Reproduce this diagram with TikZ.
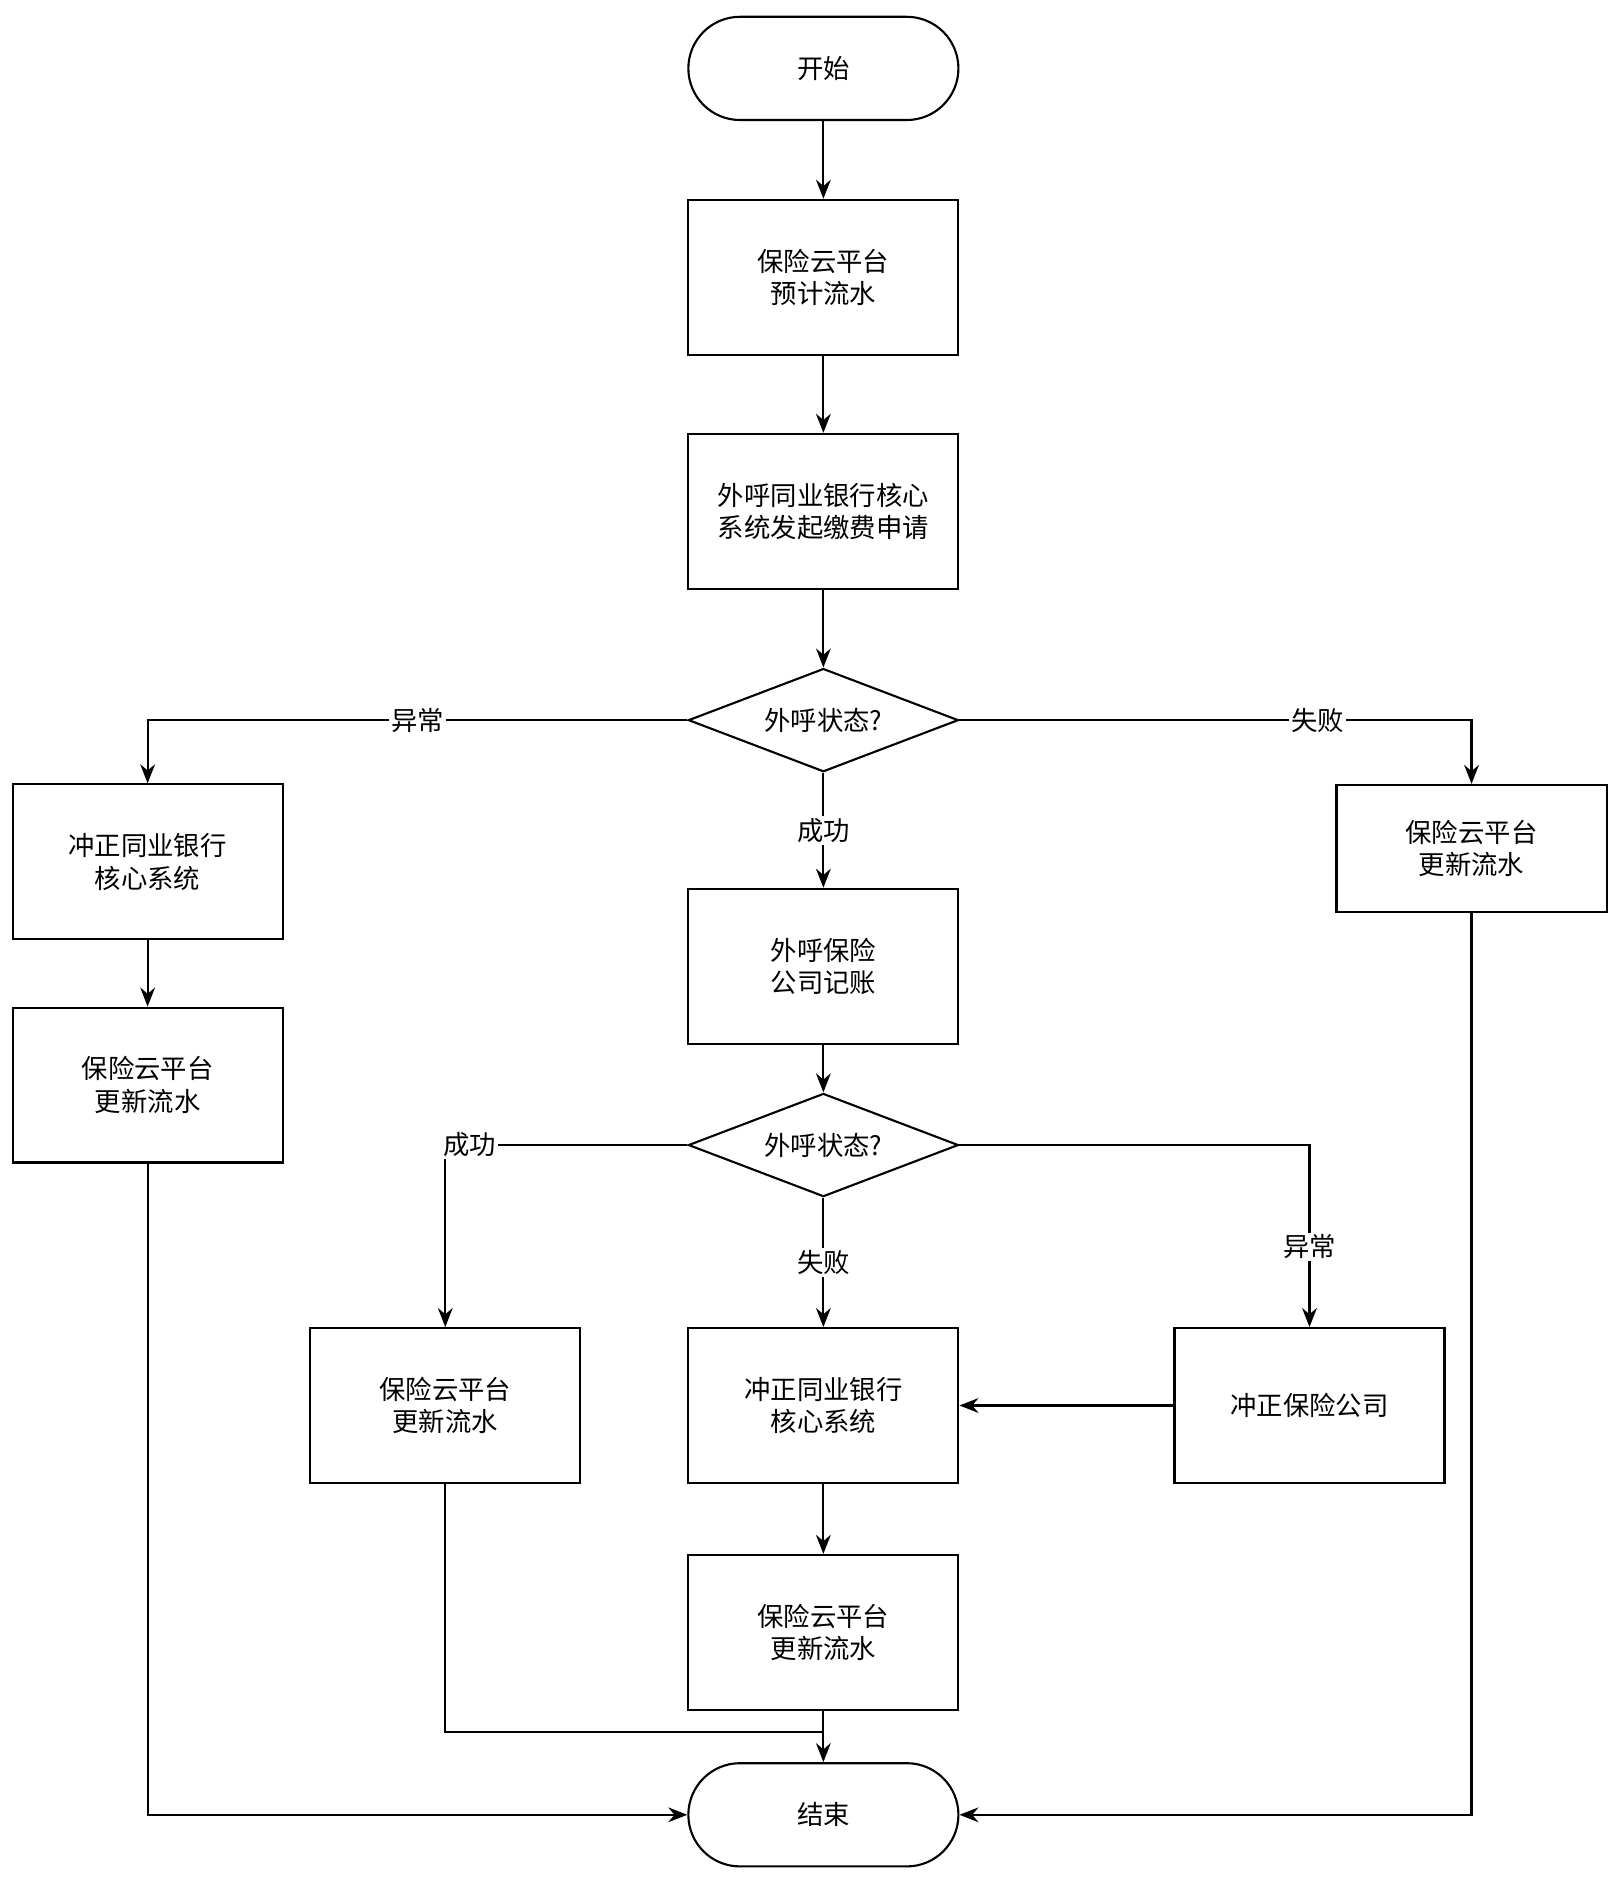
\documentclass[tikz,border=0pt]{standalone}
\usepackage{fontspec}
\setmainfont{Noto Sans CJK SC}
\usetikzlibrary{arrows.meta,shapes.geometric}

\begin{document}
\begin{tikzpicture}[font=\fontsize{12.5}{15.4}\selectfont]
    \useasboundingbox (0,0) rectangle (27,-31.36);
    \begin{scope}[every node/.style={draw,line width=1pt,align=center,minimum width=4.5cm,minimum height=2.58cm}]
        \node[rounded corners=0.86cm,minimum height=1.72cm] (start) at (13.72,-1.14) {开始};
        \node (plan) at (13.72,-4.62) {保险云平台\\预计流水};
        \node (apply) at (13.72,-8.52) {外呼同业银行核心\\系统发起缴费申请};
        \node[diamond,aspect=2.6,minimum height=1.72cm,inner sep=0pt] (check1) at (13.72,-12.0) {外呼状态?};
        \node (revbank1) at (2.46,-14.36) {冲正同业银行\\核心系统};
        \node (upd1) at (2.46,-18.08) {保险云平台\\更新流水};
        \node[minimum height=2.12cm] (upd2) at (24.52,-14.14) {保险云平台\\更新流水};
        \node (book) at (13.72,-16.10) {外呼保险\\公司记账};
        \node[diamond,aspect=2.6,minimum height=1.72cm,inner sep=0pt] (check2) at (13.72,-19.08) {外呼状态?};
        \node (upd3) at (7.42,-23.42) {保险云平台\\更新流水};
        \node (revbank2) at (13.72,-23.42) {冲正同业银行\\核心系统};
        \node (revins) at (21.82,-23.42) {冲正保险公司};
        \node (upd4) at (13.72,-27.20) {保险云平台\\更新流水};
        \node[rounded corners=0.86cm,minimum height=1.72cm] (end) at (13.72,-30.24) {结束};
    \end{scope}
    \coordinate (join) at (13.72,-28.86);

    \begin{scope}[>={Stealth[length=9pt,width=7pt]},
                  every node/.style={fill=white,inner sep=1pt},
                  every path/.style={draw=black,line width=1pt}]
        \path [->] (start) -- (plan);
        \path [->] (plan) -- (apply);
        \path [->] (apply) -- (check1);
        \path [->] (check1.west) -| node[pos=0.25] {异常} (revbank1.north);
        \path [->] (check1.east) -| node[pos=0.35] {失败} (upd2.north);
        \path [->] (check1) -- node {成功} (book);
        \path [->] (revbank1) -- (upd1);
        \path [->] (book) -- (check2);
        \path [->] (check2.west) -| node[pos=0.45] {成功} (upd3.north);
        \path [->] (check2.east) -| node[pos=0.78] {异常} (revins.north);
        \path [->] (check2) -- node {失败} (revbank2);
        \path [->] (revins) -- (revbank2);
        \path [->] (revbank2) -- (upd4);
        \path [-] (upd3.south) |- (join);
        \path [->] (upd4) -- (end);
        \path [->] (upd1.south) |- (end.west);
        \path [->] (upd2.south) |- (end.east);
    \end{scope}
\end{tikzpicture}
\end{document}
